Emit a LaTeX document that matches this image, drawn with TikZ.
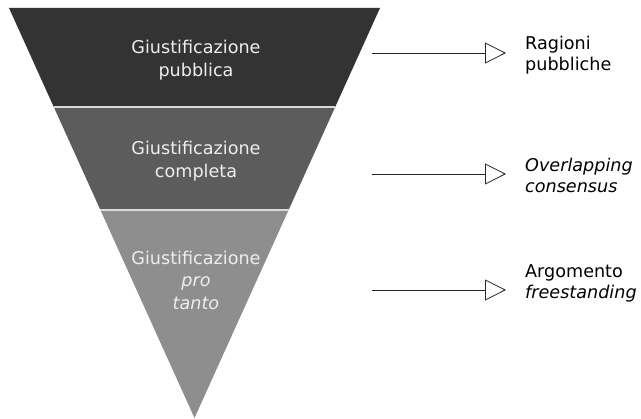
\documentclass[tikz,border=0pt]{standalone}
\usepackage{fontspec}
\setmainfont{DejaVu Sans}
\usetikzlibrary{positioning,arrows.meta}
\definecolor{bandTop}{RGB}{51,51,51}
\definecolor{bandMid}{RGB}{92,92,92}
\definecolor{bandLow}{RGB}{142,142,142}
\definecolor{bandText}{RGB}{238,238,238}

\begin{document}
\begin{tikzpicture}[
    x=1pt, y=-1pt,
    sep/.style={draw=white!70!gray, line width=1.4pt},
    bandlabel/.style={text=bandText, align=center, inner sep=0pt,
        font=\fontsize{17.6}{22.5}\selectfont},
    result/.style={align=left, anchor=west, inner sep=0pt,
        font=\fontsize{17.6}{21}\selectfont},
    arrow/.style={-{Triangle[open, length=21pt, width=21pt]}, line width=0.8pt,
        color=black!85, shorten >=19pt}
]
    \useasboundingbox (0,0) rectangle (641,419);

    % funnel bands
    \fill[bandTop] (9,8) -- (380,8) -- (335.2,107) -- (53.8,107) -- cycle;
    \fill[bandMid] (53.8,107) -- (335.2,107) -- (288.6,210) -- (100.4,210) -- cycle;
    \fill[bandLow] (100.4,210) -- (288.6,210) -- (194.5,418) -- cycle;
    \draw[sep] (53.8,107) -- (335.2,107);
    \draw[sep] (100.4,210) -- (288.6,210);

    \node[bandlabel] (pubblica) at (196,60) {Giustificazione\\pubblica};
    \node[bandlabel] (completa) at (196,161) {Giustificazione\\completa};
    \node[bandlabel] (protanto) at (196,280) {Giustificazione\\\textit{pro}\\\textit{tanto}};

    % outcomes
    \node[result] (ragioni) at (525,55) {Ragioni\\pubbliche};
    \node[result] (overlap) at (525,175) {\textit{Overlapping}\\\textit{consensus}};
    \node[result] (freest) at (525,283) {Argomento\\\textit{freestanding}};

    \coordinate (src1) at (372,53);
    \coordinate (src2) at (372,174);
    \coordinate (src3) at (372,290);

    \draw[arrow] (src1) -- (src1 -| ragioni.west);
    \draw[arrow] (src2) -- (src2 -| overlap.west);
    \draw[arrow] (src3) -- (src3 -| freest.west);
\end{tikzpicture}
\end{document}
